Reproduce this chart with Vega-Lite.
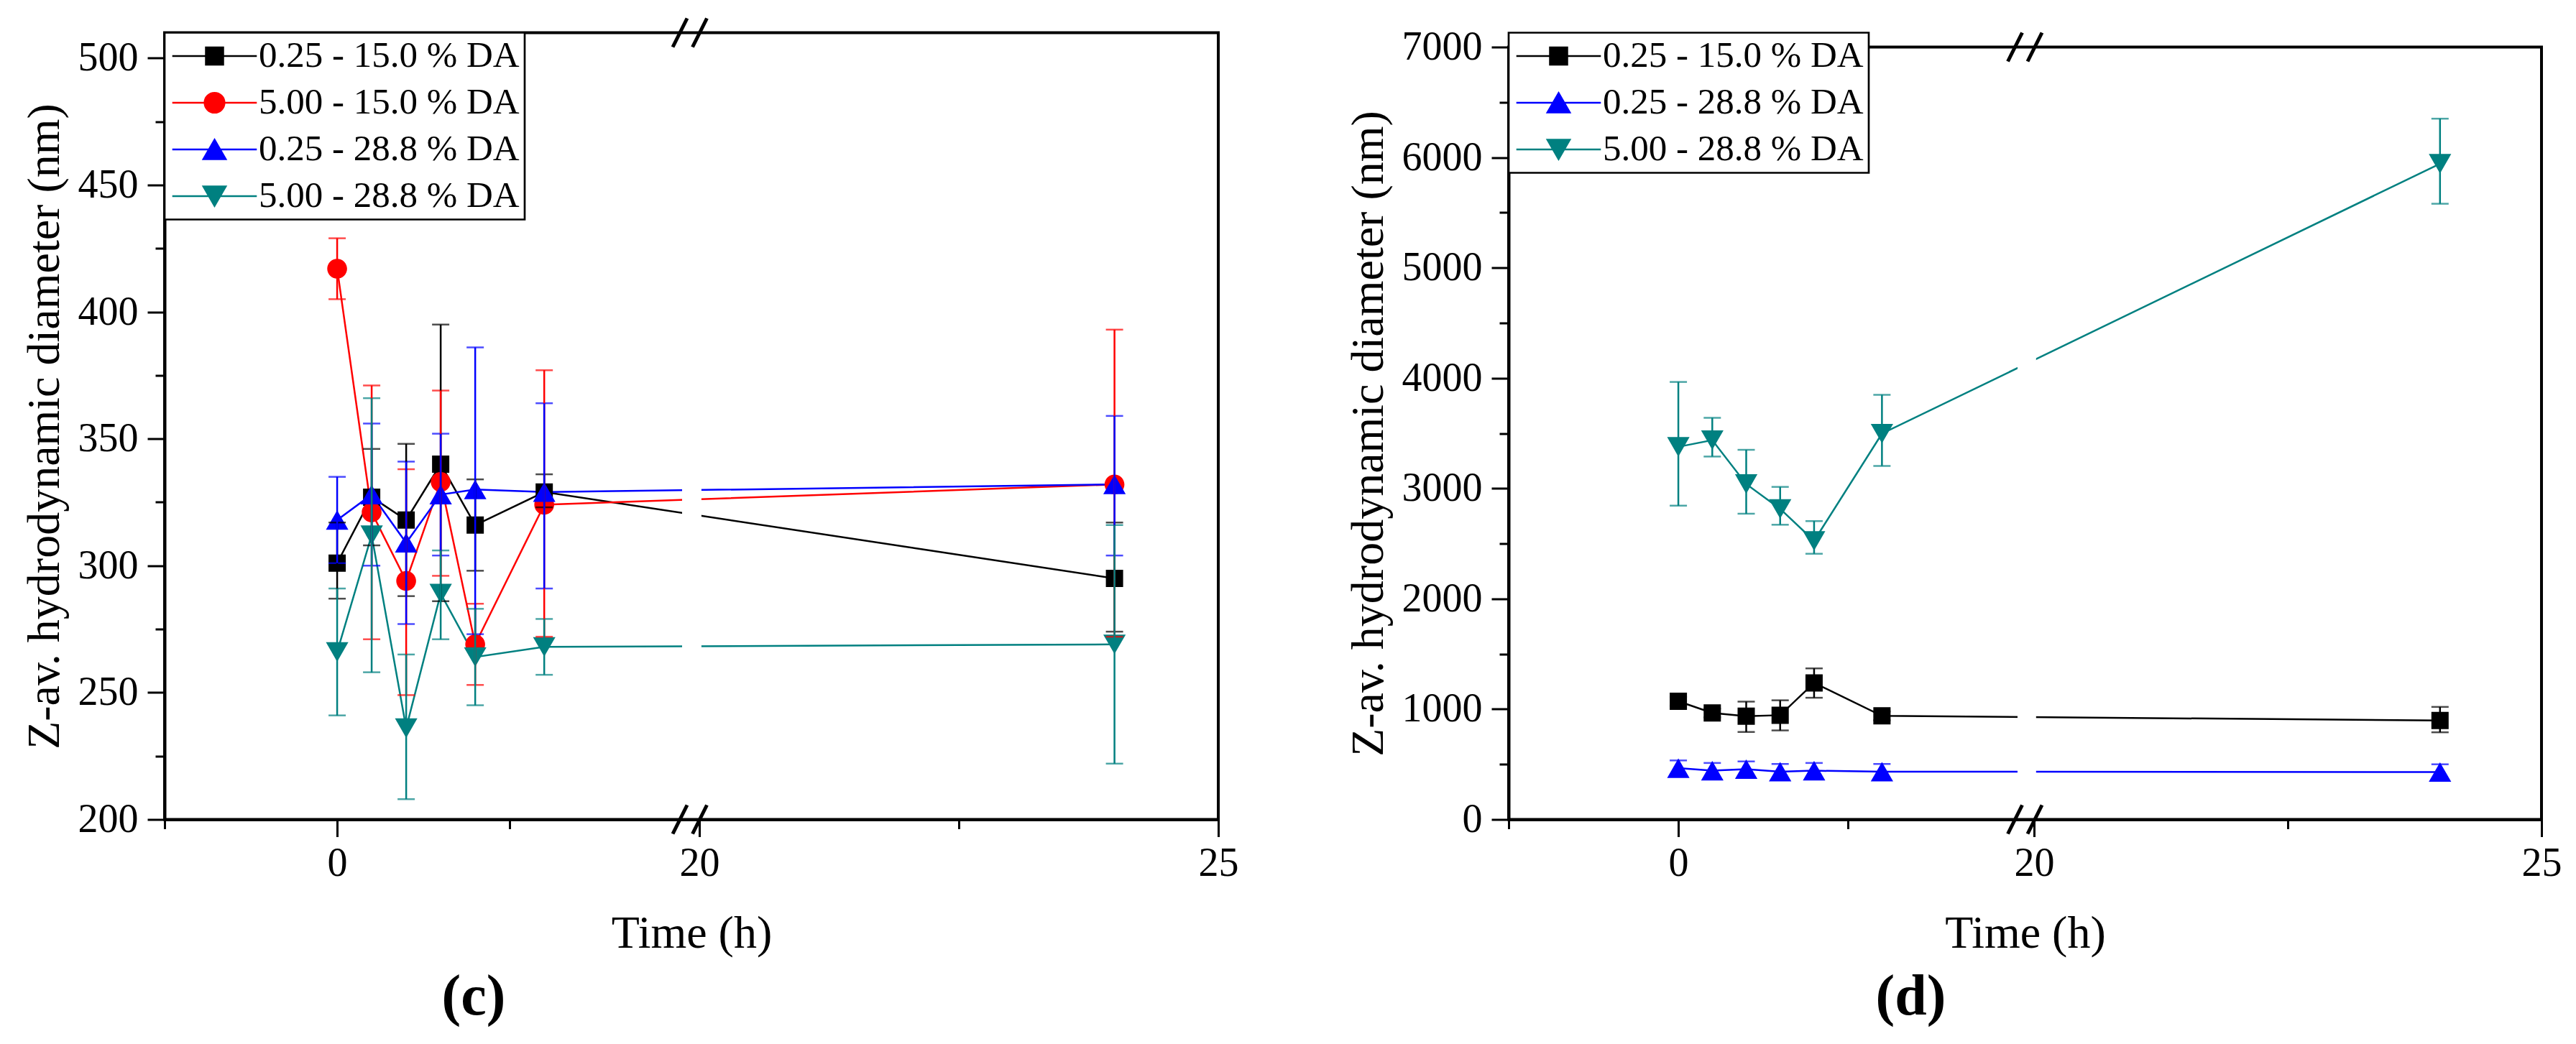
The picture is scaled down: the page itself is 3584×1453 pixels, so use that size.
{
  "$schema": "https://vega.github.io/schema/vega-lite/v6.json",
  "background": "white",
  "autosize": {"type": "pad"},
  "padding": {"left": 28, "top": 13.5, "right": 0, "bottom": 0},
  "datasets": {
    "c": [
      {"series": "0.25 - 15.0 % DA", "t": 0, "v": 301, "lo": 287, "hi": 317},
      {"series": "0.25 - 15.0 % DA", "t": 2, "v": 327, "lo": 308, "hi": 346},
      {"series": "0.25 - 15.0 % DA", "t": 4, "v": 318, "lo": 288, "hi": 348},
      {"series": "0.25 - 15.0 % DA", "t": 6, "v": 340, "lo": 286, "hi": 395},
      {"series": "0.25 - 15.0 % DA", "t": 8, "v": 316, "lo": 298, "hi": 334},
      {"series": "0.25 - 15.0 % DA", "t": 12, "v": 329, "lo": 323, "hi": 336},
      {"series": "0.25 - 15.0 % DA", "t": 24, "v": 295, "lo": 274, "hi": 317},
      {"series": "5.00 - 15.0 % DA", "t": 0, "v": 417, "lo": 405, "hi": 429},
      {"series": "5.00 - 15.0 % DA", "t": 2, "v": 321, "lo": 271, "hi": 371},
      {"series": "5.00 - 15.0 % DA", "t": 4, "v": 294, "lo": 249, "hi": 338},
      {"series": "5.00 - 15.0 % DA", "t": 6, "v": 333, "lo": 296, "hi": 369},
      {"series": "5.00 - 15.0 % DA", "t": 8, "v": 269, "lo": 253, "hi": 285},
      {"series": "5.00 - 15.0 % DA", "t": 12, "v": 324, "lo": 272, "hi": 377},
      {"series": "5.00 - 15.0 % DA", "t": 24, "v": 332, "lo": 272, "hi": 393},
      {"series": "0.25 - 28.8 % DA", "t": 0, "v": 318, "lo": 301, "hi": 335},
      {"series": "0.25 - 28.8 % DA", "t": 2, "v": 328, "lo": 300, "hi": 356},
      {"series": "0.25 - 28.8 % DA", "t": 4, "v": 309, "lo": 277, "hi": 341},
      {"series": "0.25 - 28.8 % DA", "t": 6, "v": 328, "lo": 304, "hi": 352},
      {"series": "0.25 - 28.8 % DA", "t": 8, "v": 330, "lo": 273, "hi": 386},
      {"series": "0.25 - 28.8 % DA", "t": 12, "v": 329, "lo": 291, "hi": 364},
      {"series": "0.25 - 28.8 % DA", "t": 24, "v": 332, "lo": 304, "hi": 359},
      {"series": "5.00 - 28.8 % DA", "t": 0, "v": 266, "lo": 241, "hi": 291},
      {"series": "5.00 - 28.8 % DA", "t": 2, "v": 312, "lo": 258, "hi": 366},
      {"series": "5.00 - 28.8 % DA", "t": 4, "v": 236, "lo": 208, "hi": 265},
      {"series": "5.00 - 28.8 % DA", "t": 6, "v": 289, "lo": 271, "hi": 306},
      {"series": "5.00 - 28.8 % DA", "t": 8, "v": 264, "lo": 245, "hi": 283},
      {"series": "5.00 - 28.8 % DA", "t": 12, "v": 268, "lo": 257, "hi": 279},
      {"series": "5.00 - 28.8 % DA", "t": 24, "v": 269, "lo": 222, "hi": 316}
    ],
    "d": [
      {"series": "0.25 - 15.0 % DA", "t": 0, "v": 1071, "lo": 1030, "hi": 1110},
      {"series": "0.25 - 15.0 % DA", "t": 2, "v": 965, "lo": 925, "hi": 1005},
      {"series": "0.25 - 15.0 % DA", "t": 4, "v": 936, "lo": 793, "hi": 1068},
      {"series": "0.25 - 15.0 % DA", "t": 6, "v": 945, "lo": 807, "hi": 1080},
      {"series": "0.25 - 15.0 % DA", "t": 8, "v": 1238, "lo": 1103, "hi": 1369},
      {"series": "0.25 - 15.0 % DA", "t": 12, "v": 939, "lo": 899, "hi": 979},
      {"series": "0.25 - 15.0 % DA", "t": 24, "v": 897, "lo": 790, "hi": 1020},
      {"series": "0.25 - 28.8 % DA", "t": 0, "v": 465, "lo": 395, "hi": 535},
      {"series": "0.25 - 28.8 % DA", "t": 2, "v": 442, "lo": 372, "hi": 512},
      {"series": "0.25 - 28.8 % DA", "t": 4, "v": 456, "lo": 386, "hi": 526},
      {"series": "0.25 - 28.8 % DA", "t": 6, "v": 433, "lo": 363, "hi": 503},
      {"series": "0.25 - 28.8 % DA", "t": 8, "v": 442, "lo": 372, "hi": 512},
      {"series": "0.25 - 28.8 % DA", "t": 12, "v": 433, "lo": 363, "hi": 503},
      {"series": "0.25 - 28.8 % DA", "t": 24, "v": 430, "lo": 360, "hi": 500},
      {"series": "5.00 - 28.8 % DA", "t": 0, "v": 3377, "lo": 2844, "hi": 3965},
      {"series": "5.00 - 28.8 % DA", "t": 2, "v": 3438, "lo": 3289, "hi": 3640},
      {"series": "5.00 - 28.8 % DA", "t": 4, "v": 3040, "lo": 2771, "hi": 3350},
      {"series": "5.00 - 28.8 % DA", "t": 6, "v": 2815, "lo": 2671, "hi": 3014},
      {"series": "5.00 - 28.8 % DA", "t": 8, "v": 2525, "lo": 2408, "hi": 2704},
      {"series": "5.00 - 28.8 % DA", "t": 12, "v": 3497, "lo": 3204, "hi": 3848},
      {"series": "5.00 - 28.8 % DA", "t": 24, "v": 5943, "lo": 5580, "hi": 6351}
    ]
  },
  "spacing": 404,
  "bounds": "flush",
  "resolve": {
    "scale": {"x": "independent", "y": "independent", "color": "independent", "shape": "independent"},
    "legend": {"color": "independent", "shape": "independent"}
  },
  "hconcat": [
    {
      "width": 1466,
      "height": 1095,
      "title": {"text": "(c)", "orient": "bottom", "anchor": "middle", "frame": "group", "dx": -303, "offset": 17},
      "layer": [
        {
          "data": {"name": "c"},
          "encoding": {
            "x": {
              "field": "t",
              "type": "quantitative",
              "title": "Time (h)",
              "scale": {"domain": [-10, 19.99, 20, 25], "range": [0, 720, 744, 1466], "nice": false, "zero": false},
              "axis": {
                "values": [-10, 0, 10, 20, 22.5, 25],
                "format": "d",
                "labelExpr": "datum.value == 0 || datum.value == 20 || datum.value == 25 ? datum.label : ''",
                "tickSize": {"condition": {"test": "datum.value == 0 || datum.value == 20 || datum.value == 25", "value": 24}, "value": 13},
                "labelPadding": 10,
                "titlePadding": 38
              }
            },
            "y": {
              "field": "v",
              "type": "quantitative",
              "title": "Z-av. hydrodynamic diameter (nm)",
              "scale": {"domain": [200, 510], "nice": false, "zero": false},
              "axis": {
                "values": [200, 225, 250, 275, 300, 325, 350, 375, 400, 425, 450, 475, 500],
                "format": "d",
                "labelExpr": "datum.value % 50 == 0 ? datum.label : ''",
                "tickSize": {"condition": {"test": "datum.value % 50 == 0", "value": 24}, "value": 13},
                "labelPadding": 13,
                "titlePadding": 14
              }
            },
            "color": {
              "field": "series",
              "type": "nominal",
              "scale": {
                "domain": ["0.25 - 15.0 % DA", "5.00 - 15.0 % DA", "0.25 - 28.8 % DA", "5.00 - 28.8 % DA"],
                "range": ["#000000", "#ff0000", "#0000ff", "#008080"]
              },
              "legend": {"title": null}
            }
          },
          "layer": [
            {"mark": {"type": "line", "strokeWidth": 2.5}},
            {
              "mark": {"type": "point", "filled": true, "opacity": 1, "size": 576, "strokeWidth": 2.5},
              "encoding": {
                "shape": {
                  "field": "series",
                  "type": "nominal",
                  "scale": {
                    "domain": ["0.25 - 15.0 % DA", "5.00 - 15.0 % DA", "0.25 - 28.8 % DA", "5.00 - 28.8 % DA"],
                    "range": [
                      "M-4.9,0H4.9M-1,-1H1V1H-1Z",
                      "M-4.9,0H4.9M-1.15,0A1.15,1.15,0,1,0,1.15,0A1.15,1.15,0,1,0,-1.15,0Z",
                      "M-4.9,0H4.9M0,-1.13L1.3,1.13L-1.3,1.13Z",
                      "M-4.9,0H4.9M0,1.13L-1.3,-1.13L1.3,-1.13Z"
                    ]
                  },
                  "legend": {"title": null}
                }
              }
            },
            {
              "mark": {"type": "errorbar", "ticks": true, "size": 24, "thickness": 2.5},
              "encoding": {
                "y": {"field": "lo", "type": "quantitative", "title": "Z-av. hydrodynamic diameter (nm)"},
                "y2": {"field": "hi"}
              }
            }
          ]
        },
        {
          "data": {"values": [{"part": "gap"}]},
          "mark": {"type": "rect", "color": "white"},
          "encoding": {
            "x": {"datum": 19.99, "type": "quantitative"},
            "x2": {"datum": 20.02},
            "y": {"datum": 202, "type": "quantitative"},
            "y2": {"datum": 508}
          }
        },
        {
          "data": {"values": [{"part": "top"}]},
          "mark": {"type": "point", "filled": false, "opacity": 1, "size": 2500, "strokeWidth": 5, "color": "black", "shape": "M-1,0.8L-0.2,-0.8M0.1,0.8L0.9,-0.8"},
          "encoding": {
            "x": {"datum": 19.995, "type": "quantitative"},
            "y": {"datum": 510, "type": "quantitative"}
          }
        },
        {
          "data": {"values": [{"part": "bottom"}]},
          "mark": {"type": "point", "filled": false, "opacity": 1, "size": 2500, "strokeWidth": 5, "color": "black", "shape": "M-1,0.8L-0.2,-0.8M0.1,0.8L0.9,-0.8"},
          "encoding": {
            "x": {"datum": 19.995, "type": "quantitative"},
            "y": {"datum": 200, "type": "quantitative"}
          }
        }
      ]
    },
    {
      "spacing": 0,
      "bounds": "flush",
      "vconcat": [
        {
          "width": 1437,
          "height": 20,
          "view": {"stroke": null},
          "data": {"values": [{}]},
          "mark": {"type": "point", "opacity": 0}
        },
        {
          "width": 1437,
          "height": 1075,
          "title": {"text": "(d)", "orient": "bottom", "anchor": "middle", "frame": "group", "dx": -159, "offset": 17},
          "layer": [
            {
              "data": {"name": "d"},
              "encoding": {
                "x": {
                  "field": "t",
                  "type": "quantitative",
                  "title": "Time (h)",
                  "scale": {"domain": [-10, 19.99, 20, 25], "range": [0, 708, 731, 1437], "nice": false, "zero": false},
                  "axis": {
                    "values": [-10, 0, 10, 20, 22.5, 25],
                    "format": "d",
                    "labelExpr": "datum.value == 0 || datum.value == 20 || datum.value == 25 ? datum.label : ''",
                    "tickSize": {"condition": {"test": "datum.value == 0 || datum.value == 20 || datum.value == 25", "value": 24}, "value": 13},
                    "labelPadding": 10,
                    "titlePadding": 38
                  }
                },
                "y": {
                  "field": "v",
                  "type": "quantitative",
                  "title": "Z-av. hydrodynamic diameter (nm)",
                  "scale": {"domain": [0, 7000], "nice": false, "zero": false},
                  "axis": {
                    "values": [0, 500, 1000, 1500, 2000, 2500, 3000, 3500, 4000, 4500, 5000, 5500, 6000, 6500, 7000],
                    "format": "d",
                    "labelExpr": "datum.value % 1000 == 0 ? datum.label : ''",
                    "tickSize": {"condition": {"test": "datum.value % 1000 == 0", "value": 24}, "value": 13},
                    "labelPadding": 13,
                    "titlePadding": 14
                  }
                },
                "color": {
                  "field": "series",
                  "type": "nominal",
                  "scale": {
                    "domain": ["0.25 - 15.0 % DA", "0.25 - 28.8 % DA", "5.00 - 28.8 % DA"],
                    "range": ["#000000", "#0000ff", "#008080"]
                  },
                  "legend": {"title": null}
                }
              },
              "layer": [
                {"mark": {"type": "line", "strokeWidth": 2.5}},
                {
                  "mark": {"type": "point", "filled": true, "opacity": 1, "size": 576, "strokeWidth": 2.5},
                  "encoding": {
                    "shape": {
                      "field": "series",
                      "type": "nominal",
                      "scale": {
                        "domain": ["0.25 - 15.0 % DA", "0.25 - 28.8 % DA", "5.00 - 28.8 % DA"],
                        "range": [
                          "M-4.9,0H4.9M-1,-1H1V1H-1Z",
                          "M-4.9,0H4.9M0,-1.13L1.3,1.13L-1.3,1.13Z",
                          "M-4.9,0H4.9M0,1.13L-1.3,-1.13L1.3,-1.13Z"
                        ]
                      },
                      "legend": {"title": null}
                    }
                  }
                },
                {
                  "mark": {"type": "errorbar", "ticks": true, "size": 24, "thickness": 2.5},
                  "encoding": {
                    "y": {"field": "lo", "type": "quantitative", "title": "Z-av. hydrodynamic diameter (nm)"},
                    "y2": {"field": "hi"}
                  }
                }
              ]
            },
            {
              "data": {"values": [{"part": "gap"}]},
              "mark": {"type": "rect", "color": "white"},
              "encoding": {
                "x": {"datum": 19.99, "type": "quantitative"},
                "x2": {"datum": 20.02},
                "y": {"datum": 30, "type": "quantitative"},
                "y2": {"datum": 6970}
              }
            },
            {
              "data": {"values": [{"part": "top"}]},
              "mark": {"type": "point", "filled": false, "opacity": 1, "size": 2500, "strokeWidth": 5, "color": "black", "shape": "M-1,0.8L-0.2,-0.8M0.1,0.8L0.9,-0.8"},
              "encoding": {
                "x": {"datum": 19.995, "type": "quantitative"},
                "y": {"datum": 7000, "type": "quantitative"}
              }
            },
            {
              "data": {"values": [{"part": "bottom"}]},
              "mark": {"type": "point", "filled": false, "opacity": 1, "size": 2500, "strokeWidth": 5, "color": "black", "shape": "M-1,0.8L-0.2,-0.8M0.1,0.8L0.9,-0.8"},
              "encoding": {
                "x": {"datum": 19.995, "type": "quantitative"},
                "y": {"datum": 0, "type": "quantitative"}
              }
            }
          ]
        }
      ]
    }
  ],
  "config": {
    "font": "Liberation Serif",
    "view": {"stroke": "black", "strokeWidth": 4},
    "axis": {
      "grid": false,
      "domainColor": "black",
      "domainWidth": 4,
      "tickColor": "black",
      "tickWidth": 3,
      "labelColor": "black",
      "titleColor": "black",
      "labelFont": "Liberation Serif",
      "titleFont": "Liberation Serif",
      "labelFontSize": 56,
      "titleFontSize": 64,
      "titleFontWeight": "normal",
      "labelFlush": false,
      "labelOverlap": false
    },
    "legend": {
      "orient": "top-left",
      "offset": 0,
      "padding": 7,
      "strokeColor": "black",
      "strokeWidth": 2.7,
      "fillColor": "white",
      "labelFont": "Liberation Serif",
      "labelFontSize": 51,
      "labelColor": "black",
      "labelLimit": 1000,
      "symbolSize": 576,
      "symbolStrokeWidth": 2.5,
      "symbolOffset": 37,
      "labelOffset": 36,
      "rowPadding": 13
    },
    "title": {"font": "Liberation Serif", "fontSize": 80, "fontWeight": "bold", "color": "black"}
  }
}
